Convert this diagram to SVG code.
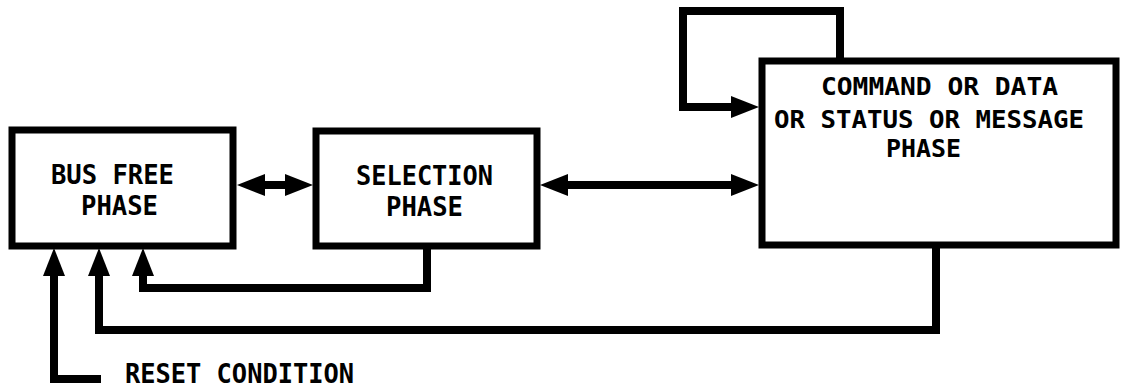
<svg xmlns="http://www.w3.org/2000/svg" width="1121" height="388" viewBox="0 0 1121 388">
<defs>
<style>
.box{fill:#fff;stroke:#000;stroke-width:7}
.lbl{font-family:"DejaVu Sans Mono","Liberation Mono",monospace;font-weight:bold;font-size:27px;fill:#000}
.sm{font-size:24px}
.conn{fill:none;stroke:#000;stroke-width:8;stroke-linejoin:miter}
</style>
<marker id="ah" viewBox="0 0 28 22" markerUnits="userSpaceOnUse" markerWidth="28" markerHeight="22" refX="14" refY="11" orient="auto-start-reverse">
<path d="M0,0 L28,11 L0,22 z" fill="#000"/>
</marker>
</defs>
<rect width="1121" height="388" fill="#fff"/>
<g id="bus-free">
<rect class="box" x="12" y="130" width="221" height="116"/>
<text class="lbl" x="51" y="184" textLength="123" lengthAdjust="spacingAndGlyphs">BUS FREE</text>
<text class="lbl" x="81" y="215" textLength="77" lengthAdjust="spacingAndGlyphs">PHASE</text>
</g>
<g id="selection">
<rect class="box" x="316" y="131" width="221" height="115"/>
<text class="lbl" x="356" y="185" textLength="137" lengthAdjust="spacingAndGlyphs">SELECTION</text>
<text class="lbl" x="386" y="216" textLength="77" lengthAdjust="spacingAndGlyphs">PHASE</text>
</g>
<g id="command">
<rect class="box" x="762" y="61" width="354" height="184"/>
<text class="lbl sm" x="821" y="95" textLength="237" lengthAdjust="spacingAndGlyphs">COMMAND OR DATA</text>
<text class="lbl sm" x="774" y="128" textLength="310" lengthAdjust="spacingAndGlyphs">OR STATUS OR MESSAGE</text>
<text class="lbl sm" x="886" y="157" textLength="75" lengthAdjust="spacingAndGlyphs">PHASE</text>
</g>
<g id="reset">
<text class="lbl" x="125" y="383" textLength="229" lengthAdjust="spacingAndGlyphs">RESET CONDITION</text>
</g>
<g id="connectors">
<path class="conn" d="M251,185 H299" marker-start="url(#ah)" marker-end="url(#ah)"/>
<path class="conn" d="M554,185 H745" marker-start="url(#ah)" marker-end="url(#ah)"/>
<path class="conn" d="M840,59 V11 H683 V107 H745" marker-end="url(#ah)"/>
<path class="conn" d="M427,246 V288 H143 V262" marker-end="url(#ah)"/>
<path class="conn" d="M936,245 V330 H99 V262" marker-end="url(#ah)"/>
<path class="conn" d="M101,379 H54 V262" marker-end="url(#ah)"/>
</g>
</svg>
